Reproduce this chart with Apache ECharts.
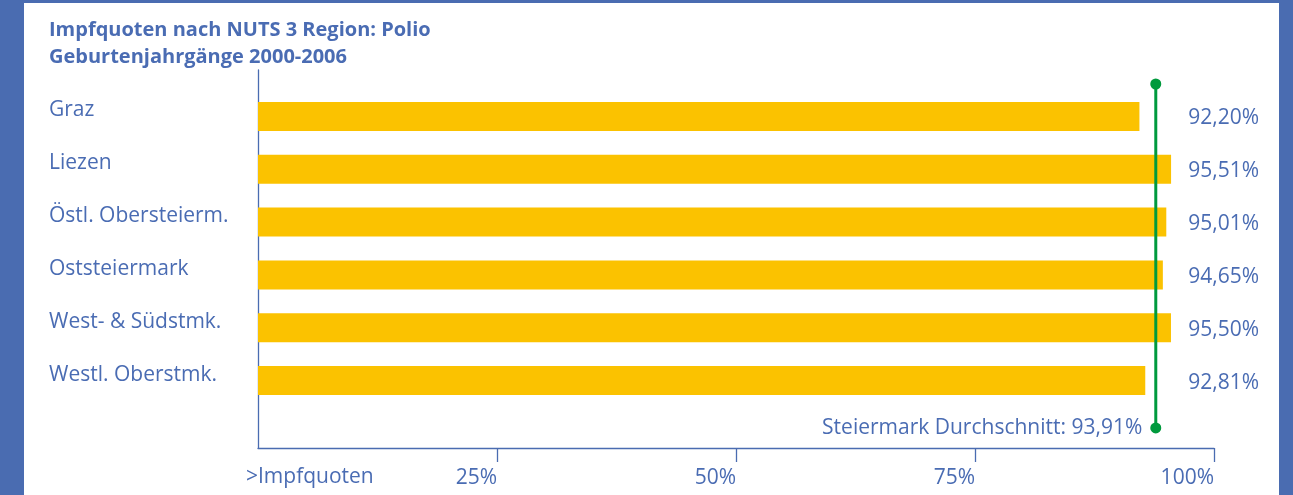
<!DOCTYPE html>
<html>
<head>
<meta charset="utf-8">
<script src="https://cdn.jsdelivr.net/npm/echarts@6/dist/echarts.min.js"></script>
<style>
html,body{margin:0;padding:0;background:#4a6cb1;}
#c{width:1293px;height:495px;}
</style>
</head>
<body>
<div id="c"></div>
<script>
var titleLines = ['Impfquoten nach NUTS 3 Region: Polio', 'Geburtenjahrgänge 2000-2006'];
var categories = ['Graz', 'Liezen', 'Östl. Obersteierm.', 'Oststeiermark', 'West- & Südstmk.', 'Westl. Oberstmk.'];
var values = [92.20, 95.51, 95.01, 94.65, 95.50, 92.81];
var average = 93.91;
var averageLabel = 'Steiermark Durchschnitt: ';
var xTicks = [25, 50, 75, 100];
var xStartLabel = '>Impfquoten';

var BLUE = '#4a6cb1';
var TXT = '#4a6cb3';
var FONT = '"Open Sans", "Noto Sans", sans-serif';
function fmt(v){ return v.toFixed(2).replace('.', ',') + '%'; }

var chart = echarts.init(document.getElementById('c'));
chart.setOption({
  backgroundColor: BLUE,
  animation: false,
  textStyle: {fontFamily: FONT},
  graphic: [
    {type: 'rect', left: 24, top: 3, shape: {width: 1255, height: 500}, style: {fill: '#ffffff'}, z: -10, silent: true}
  ],
  title: {
    text: titleLines.join('\n'),
    left: 49, top: 17, padding: 0,
    textStyle: {color: TXT, fontSize: 20, fontWeight: 'bold', fontFamily: FONT, lineHeight: 27}
  },
  grid: [
    {left: 258, right: 79, top: 90, height: 317},
    {left: 258, right: 79, top: 70, bottom: 47}
  ],
  xAxis: [
    {gridIndex: 0, type: 'value', min: 0, max: 100, show: false},
    {gridIndex: 1, type: 'value', min: 0, max: 100, interval: 25,
      axisLine: {show: true, lineStyle: {color: BLUE, width: 1.3}},
      axisTick: {show: true, length: 14, inside: false, customValues: xTicks, lineStyle: {color: BLUE, width: 1.3}},
      splitLine: {show: false},
      axisLabel: {customValues: xTicks, color: TXT, fontSize: 21, fontFamily: FONT, align: 'right', margin: 20, formatter: function(v){return v + '%';}},
      name: xStartLabel, nameLocation: 'start', nameGap: 12,
      nameTextStyle: {color: TXT, fontSize: 21, fontFamily: FONT, align: 'left', verticalAlign: 'top', padding: [19, 0, 0, 0]}
    }
  ],
  yAxis: [
    {gridIndex: 0, type: 'category', inverse: true, data: categories,
      axisLine: {show: false}, axisTick: {show: false},
      axisLabel: {color: TXT, fontSize: 21, fontFamily: FONT, align: 'left', margin: 209, verticalAlign: 'bottom', lineHeight: 12}
    },
    {gridIndex: 0, type: 'category', inverse: true, position: 'right', data: values.map(fmt),
      axisLine: {show: false}, axisTick: {show: false},
      axisLabel: {color: TXT, fontSize: 21, fontFamily: FONT, align: 'right', margin: 45, verticalAlign: 'top', lineHeight: 4}
    },
    {gridIndex: 1, type: 'value', min: 0, max: 1,
      axisLine: {show: true, lineStyle: {color: BLUE, width: 1.3}},
      axisTick: {show: false}, axisLabel: {show: false}, splitLine: {show: false}
    }
  ],
  series: [
    {type: 'bar', xAxisIndex: 0, yAxisIndex: 0, data: values, barWidth: 29,
      itemStyle: {color: '#fbc200'}, silent: true},
    {type: 'line', xAxisIndex: 1, yAxisIndex: 2,
      data: [[average, 0.963], {value: [average, 0.053], label: {show: true}}],
      symbol: 'circle', symbolSize: 11, showSymbol: true,
      lineStyle: {color: '#009a3d', width: 3},
      itemStyle: {color: '#009a3d'},
      label: {show: false, position: 'left', distance: 8, color: TXT, fontSize: 21, fontFamily: FONT,
        formatter: function(){ return averageLabel + fmt(average); }},
      z: 5, silent: true}
  ]
});
</script>
</body>
</html>
